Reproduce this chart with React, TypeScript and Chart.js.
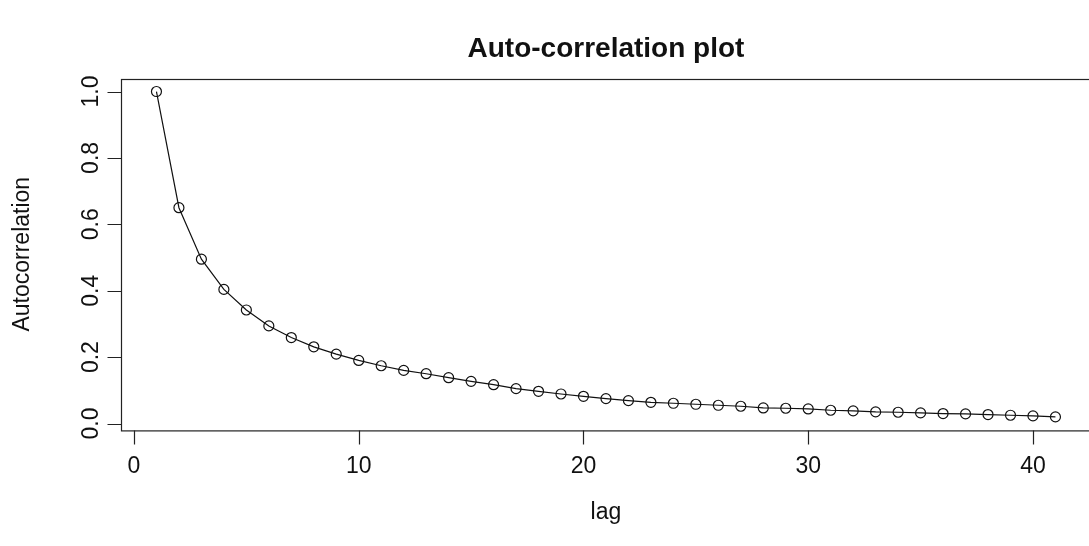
import React, { useEffect, useRef } from "react";
import { Chart, registerables } from "chart.js";

Chart.register(...registerables);

const lags = [
  1, 2, 3, 4, 5, 6, 7, 8, 9, 10, 11, 12, 13, 14, 15, 16, 17, 18, 19, 20, 21,
  22, 23, 24, 25, 26, 27, 28, 29, 30, 31, 32, 33, 34, 35, 36, 37, 38, 39, 40, 41,
];
const autocorr = [
  1.0, 0.65, 0.495, 0.404, 0.342, 0.294, 0.259, 0.231, 0.209, 0.19, 0.174,
  0.16, 0.15, 0.138, 0.127, 0.117, 0.105, 0.097, 0.089, 0.082, 0.075, 0.069,
  0.064, 0.061, 0.058, 0.055, 0.052, 0.047, 0.046, 0.044, 0.04, 0.038, 0.035,
  0.034, 0.032, 0.03, 0.029, 0.027, 0.025, 0.023, 0.02,
];
const xTicks = [0, 10, 20, 30, 40];
const yTicks = [0, 0.2, 0.4, 0.6, 0.8, 1.0];
const yTickLabels = ["0.0", "0.2", "0.4", "0.6", "0.8", "1.0"];
const titleText = "Auto-correlation plot";
const xTitle = "lag";
const yTitle = "Autocorrelation";

const FONT = "'Liberation Sans', Arial, Helvetica, sans-serif";

const rAxesPlugin = {
  id: "rAxes",
  afterDraw(chart: any) {
    const { ctx, chartArea, scales } = chart;
    const { left, right, top, bottom } = chartArea;
    const xs = scales.x;
    const ys = scales.y;
    const tick = 14;
    ctx.save();
    ctx.strokeStyle = "#222";
    ctx.fillStyle = "#111";
    ctx.lineWidth = 1.2;
    // box
    ctx.strokeRect(Math.round(left) + 0.5, Math.round(top) + 0.5, right - left, bottom - top);
    // x axis
    ctx.beginPath();
    const bx = Math.round(bottom) + 0.5;
    xTicks.forEach((v) => {
      const px = Math.round(xs.getPixelForValue(v)) + 0.5;
      ctx.moveTo(px, bx);
      ctx.lineTo(px, bx + tick);
    });
    ctx.stroke();
    ctx.font = `23px ${FONT}`;
    ctx.textAlign = "center";
    ctx.textBaseline = "middle";
    xTicks.forEach((v) => {
      ctx.fillText(String(v), xs.getPixelForValue(v), bottom + 37);
    });
    ctx.fillText(xTitle, (left + right) / 2, bottom + 83);
    // y axis
    ctx.beginPath();
    const lx = Math.round(left) + 0.5;
    yTicks.forEach((v) => {
      const py = Math.round(ys.getPixelForValue(v)) + 0.5;
      ctx.moveTo(lx, py);
      ctx.lineTo(lx - tick, py);
    });
    ctx.stroke();
    yTicks.forEach((v, i) => {
      ctx.save();
      ctx.translate(left - 29, ys.getPixelForValue(v));
      ctx.rotate(-Math.PI / 2);
      ctx.fillText(yTickLabels[i], 0, 0);
      ctx.restore();
    });
    ctx.save();
    ctx.translate(left - 98, (top + bottom) / 2);
    ctx.rotate(-Math.PI / 2);
    ctx.fillText(yTitle, 0, 0);
    ctx.restore();
    // title
    ctx.font = `bold 28px ${FONT}`;
    ctx.fillText(titleText, (left + right) / 2, 49);
    ctx.restore();
  },
};

export default function App() {
  const ref = useRef<HTMLCanvasElement | null>(null);
  useEffect(() => {
    if (!ref.current) return;
    const chart = new Chart(ref.current, {
      type: "line",
      data: {
        datasets: [
          {
            data: lags.map((l, i) => ({ x: l, y: autocorr[i] })),
            borderColor: "#111",
            borderWidth: 1.2,
            pointRadius: 5,
            pointBorderWidth: 1.2,
            pointBorderColor: "#111",
            pointBackgroundColor: "rgba(0,0,0,0)",
            tension: 0,
            fill: false,
          },
        ],
      },
      options: {
        animation: false,
        responsive: false,
        devicePixelRatio: 1,
        events: [],
        layout: { padding: { left: 120.5, right: 8.6, top: 78.5, bottom: 116.1 } },
        scales: {
          x: { type: "linear", min: -0.6, max: 42.6, display: false },
          y: { type: "linear", min: -0.0192, max: 1.0392, display: false },
        },
        plugins: {
          legend: { display: false },
          tooltip: { enabled: false },
          title: { display: false },
        },
      },
      plugins: [rAxesPlugin],
    });
    return () => chart.destroy();
  }, []);
  return (
    <div
      style={{
        position: "fixed",
        left: 0,
        top: 0,
        width: 1089,
        height: 546,
        overflow: "hidden",
        background: "#fff",
      }}
    >
      <canvas ref={ref} width={1100} height={546} style={{ display: "block" }} />
    </div>
  );
}
